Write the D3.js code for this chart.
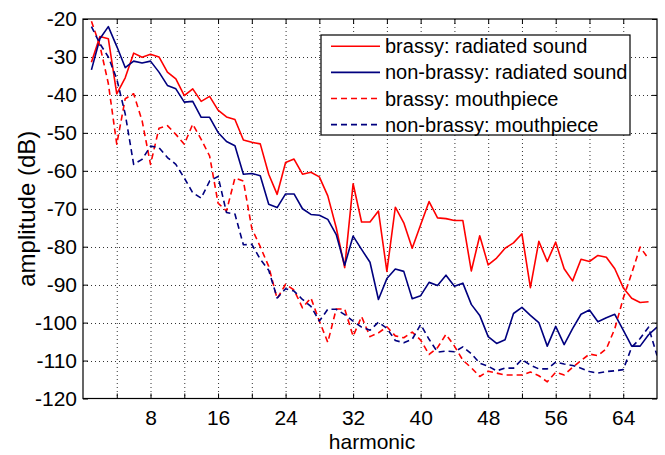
<!DOCTYPE html>
<html>
<head>
<meta charset="utf-8">
<script src="https://cdn.jsdelivr.net/npm/d3@7"></script>
<style>
  body { margin: 0; background: #fff; }
  text { font-family: "Liberation Sans", Arial, sans-serif; }
</style>
</head>
<body>
<div id="spectrum-chart"></div>
<script>
// amplitude (dB) per harmonic, harmonic n is at index n-1
var brassyRadiated = [-31.4, -24.6, -25.2, -39.7, -35.5, -29, -30.1, -29.3, -30, -34,
  -35.8, -40.2, -38.4, -41.7, -40.4, -44, -45.8, -46.5, -51.9, -52.5,
  -52.9, -60.9, -66.2, -57.8, -56.9, -60.9, -60.4, -61.6, -66.6, -75,
  -85.5, -63.4, -73.5, -73.5, -70.6, -86.5, -69.6, -73.7, -80.4, -74.2,
  -68.1, -72.4, -72.6, -73.1, -73.1, -86.4, -77.1, -84.8, -83, -80.4,
  -79, -76.6, -90.8, -78.6, -83.9, -78.8, -85.8, -89, -83.3, -83.9,
  -82.3, -82.8, -85.8, -90.8, -93.6, -94.7, -94.5];
var nonBrassyRadiated = [-33.4, -25.2, -22, -27.2, -32.8, -31.1, -31.6, -31.1, -34, -37.5,
  -38.4, -41.9, -41.7, -45.9, -45.9, -49.9, -52.3, -53.4, -60.9, -60.7,
  -61.3, -68.8, -69.7, -66.1, -66.1, -70, -71.5, -71.7, -72.8, -76.8,
  -84.9, -77.2, -80.7, -84.1, -93.9, -88.4, -85.9, -86.5, -93.7, -92.9,
  -89.4, -90.2, -87.5, -90.4, -89.6, -95.2, -98.1, -103.7, -105.5, -104.5,
  -97.6, -96, -98.1, -100, -106.2, -101, -105.8, -101.6, -97.8, -96.7,
  -99.8, -98.7, -97.8, -102, -106.2, -106.2, -103.2, -101.2];
var brassyMouthpiece = [-20.6, -27, -37, -53, -41, -39.7, -46.8, -58.3, -48.8, -48.1,
  -50.4, -53, -47.7, -51.7, -56.1, -68.5, -70.6, -61.9, -62.7, -75.2,
  -80, -85.2, -93.7, -89.9, -91.4, -96.1, -93.5, -99.6, -105.2, -96.4,
  -96.4, -103.6, -98.4, -103.7, -102.7, -101.1, -103.5, -104, -102.5, -104.6,
  -108.4, -106.6, -103.1, -106.2, -109.9, -111.9, -114.2, -112.8, -113.3, -113.8,
  -113.8, -113.8, -113, -114, -115.6, -113.1, -113.8, -111.8, -110, -108.3,
  -108.7, -106.9, -101.6, -93.6, -87, -80.1, -83.2];
var nonBrassyMouthpiece = [-22, -26.5, -30, -35.8, -45, -58.3, -57, -53.5, -53.9, -56.5,
  -58.3, -61.9, -65.8, -67.2, -62.7, -61.5, -71, -71.4, -79.5, -79.4,
  -83.3, -86.2, -93.5, -91.1, -91.7, -93.9, -95.7, -99.6, -96.5, -96.5,
  -97.9, -99.6, -101.2, -102, -99.9, -101.5, -104.7, -105.3, -104.4, -100.5,
  -104.4, -107.8, -107.5, -107.7, -106.4, -108.2, -110.7, -111.5, -112.7, -112,
  -112, -109.7, -111.2, -112.2, -112.2, -110.4, -110.9, -111.3, -112, -112.9,
  -113.3, -112.9, -112.7, -112.4, -106.5, -104.2, -101.2, -108.7];

var seriesLabels = ["brassy: radiated sound", "non-brassy: radiated sound",
  "brassy: mouthpiece", "non-brassy: mouthpiece"];

var xTicks = [4, 8, 12, 16, 20, 24, 28, 32, 36, 40, 44, 48, 52, 56, 60, 64];
var xTickLabels = [8, 16, 24, 32, 40, 48, 56, 64];
var yTicks = [-20, -30, -40, -50, -60, -70, -80, -90, -100, -110, -120];

function SpectrumChart(series){
  var self = this;
  self.series = series;
  self.init();
}

SpectrumChart.prototype.init = function(){
  var self = this;
  self.svgWidth = 665;
  self.svgHeight = 455;
  self.box = {left: 83, right: 657, top: 19, bottom: 398.5};

  self.svg = d3.select("#spectrum-chart").append("svg")
    .attr("width", self.svgWidth)
    .attr("height", self.svgHeight)
    .style("display", "block");

  self.x = d3.scaleLinear().domain([0, 68]).range([self.box.left, self.box.right]);
  self.y = d3.scaleLinear().domain([-120, -20]).range([self.box.bottom, self.box.top]);
};

SpectrumChart.prototype.update = function(){
  var self = this;
  var x = self.x, y = self.y, b = self.box;
  var svg = self.svg;

  svg.append("rect").attr("width", self.svgWidth).attr("height", self.svgHeight).attr("fill", "#fff");

  svg.append("defs").append("clipPath").attr("id", "plot-clip")
    .append("rect")
    .attr("x", b.left).attr("y", b.top)
    .attr("width", b.right - b.left).attr("height", b.bottom - b.top);

  //dotted grid
  var grid = svg.append("g").attr("class", "grid")
    .attr("stroke", "#333").attr("stroke-width", 1).attr("stroke-dasharray", "1,3");
  grid.selectAll(".vgrid").data(xTicks).enter().append("line")
    .attr("x1", d => x(d) + 0.5).attr("x2", d => x(d) + 0.5)
    .attr("y1", b.top).attr("y2", b.bottom);
  grid.selectAll(".hgrid").data(yTicks.slice(1, -1)).enter().append("line")
    .attr("x1", b.left).attr("x2", b.right)
    .attr("y1", d => Math.round(y(d)) + 0.5).attr("y2", d => Math.round(y(d)) + 0.5);

  //lines
  var styles = [
    {color: "#ff0000", dash: null},
    {color: "#00007f", dash: null},
    {color: "#ff0000", dash: "6,4"},
    {color: "#00007f", dash: "6,4"}
  ];
  var line = d3.line().x((d, i) => x(i + 1)).y(d => y(d));
  svg.append("g").attr("clip-path", "url(#plot-clip)")
    .selectAll(".series").data(self.series).enter().append("path")
    .attr("class", "series")
    .attr("d", d => line(d))
    .attr("fill", "none")
    .attr("stroke", (d, i) => styles[i].color)
    .attr("stroke-width", 1.6)
    .attr("stroke-linejoin", "round")
    .attr("stroke-dasharray", (d, i) => styles[i].dash);

  //axes, ticks pointing in like matlab
  var xAxis = d3.axisBottom(x).tickValues(xTicks).tickSizeInner(-5).tickSizeOuter(0).tickPadding(12)
    .tickFormat(d => xTickLabels.indexOf(d) >= 0 ? String(d) : "");
  var yAxis = d3.axisLeft(y).tickValues(yTicks).tickSizeInner(-5).tickSizeOuter(0).tickPadding(6)
    .tickFormat(d => String(d));

  var gx = svg.append("g").attr("transform", "translate(0," + b.bottom + ")").call(xAxis);
  var gy = svg.append("g").attr("transform", "translate(" + b.left + ",0)").call(yAxis);
  svg.append("g").attr("transform", "translate(0," + b.top + ")")
    .call(d3.axisTop(x).tickValues(xTicks).tickSizeInner(-5).tickSizeOuter(0).tickFormat(""));
  svg.append("g").attr("transform", "translate(" + b.right + ",0)")
    .call(d3.axisRight(y).tickValues(yTicks).tickSizeInner(-5).tickSizeOuter(0).tickFormat(""));

  svg.selectAll(".domain").remove();
  svg.selectAll(".tick line").attr("stroke", "#000");
  gx.selectAll("text").attr("font-size", 21).attr("fill", "#000")
    .attr("font-family", "'Liberation Sans', Arial, sans-serif");
  gy.selectAll("text").attr("font-size", 21).attr("fill", "#000")
    .attr("font-family", "'Liberation Sans', Arial, sans-serif");

  svg.append("rect")
    .attr("x", b.left).attr("y", b.top)
    .attr("width", b.right - b.left).attr("height", b.bottom - b.top)
    .attr("fill", "none").attr("stroke", "#000").attr("stroke-width", 1.2);

  //axis titles
  svg.append("text")
    .attr("x", (b.left + b.right) / 2 + 2).attr("y", 449)
    .attr("text-anchor", "middle").attr("font-size", 21)
    .text("harmonic");
  svg.append("text")
    .attr("transform", "translate(35," + ((b.top + b.bottom) / 2) + ") rotate(-90)")
    .attr("text-anchor", "middle").attr("font-size", 24)
    .text("amplitude (dB)");

  //legend box
  var legend = svg.append("g").attr("class", "legend");
  legend.append("rect")
    .attr("x", 321).attr("y", 35).attr("width", 309).attr("height", 100)
    .attr("fill", "#fff").attr("stroke", "#000").attr("stroke-width", 1.2);
  var rows = legend.selectAll(".legend-row").data(seriesLabels).enter().append("g")
    .attr("class", "legend-row")
    .attr("transform", (d, i) => "translate(0," + (46.3 + i * 26.1) + ")");
  rows.append("line")
    .attr("x1", 331).attr("x2", 380).attr("y1", 0).attr("y2", 0)
    .attr("stroke", (d, i) => styles[i].color)
    .attr("stroke-width", 1.6)
    .attr("stroke-dasharray", (d, i) => styles[i].dash);
  rows.append("text")
    .attr("x", 385).attr("y", 0).attr("dy", "0.35em")
    .attr("font-size", 20)
    .text(d => d);
};

var chart = new SpectrumChart([brassyRadiated, nonBrassyRadiated, brassyMouthpiece, nonBrassyMouthpiece]);
chart.update();
</script>
</body>
</html>
